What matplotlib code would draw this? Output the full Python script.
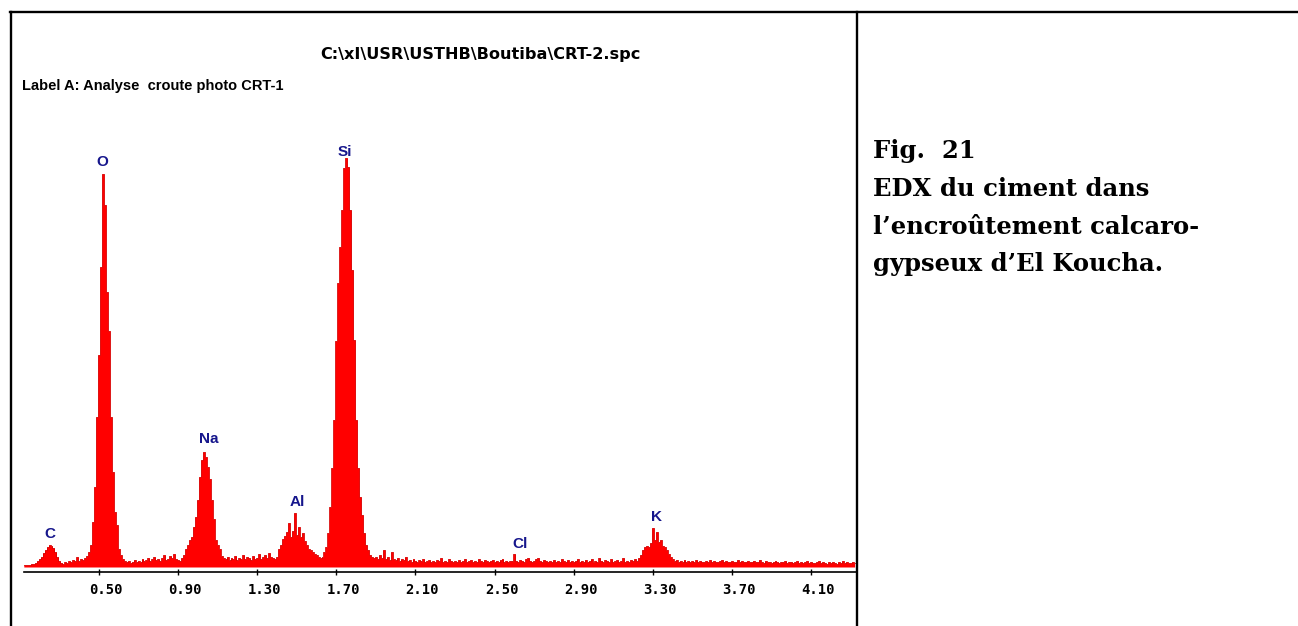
import numpy as np
import matplotlib.pyplot as plt
from matplotlib import font_manager
from matplotlib.lines import Line2D
from matplotlib.transforms import ScaledTranslation

# EDX spectrum, 10 eV channels starting at 0.12 keV (counts, arbitrary units)
e_start = 0.12
e_step = 0.01
counts = [
    2, 2, 2, 2, 3, 3, 4, 6,                               # 0.12-0.19
    8, 10, 14, 17, 20, 22, 21, 19, 15, 10,                # 0.2x  C
    6, 4, 3, 5, 4, 6, 5, 7, 6, 10,                        # 0.3x
    6, 8, 7, 9, 11, 15, 22, 45, 80, 150,                  # 0.4x
    212, 300, 393, 362, 275, 236, 150, 95, 55, 42,        # 0.5x  O
    18, 12, 8, 6, 5, 6, 4, 5, 7, 5,                       # 0.6x
    6, 5, 8, 6, 7, 9, 6, 8, 10, 7,                        # 0.7x
    8, 6, 9, 12, 7, 8, 11, 9, 13, 8,                      # 0.8x
    7, 6, 9, 12, 18, 22, 27, 30, 40, 50,                  # 0.9x
    67, 90, 107, 115, 110, 100, 88, 67, 48, 27,           # 1.0x  Na
    22, 18, 11, 9, 8, 10, 7, 9, 8, 11,                    # 1.1x
    7, 9, 8, 12, 8, 10, 9, 7, 11, 8,                      # 1.2x
    9, 13, 8, 10, 12, 9, 14, 10, 9, 8,                    # 1.3x
    10, 18, 22, 28, 31, 35, 44, 30, 36, 54,               # 1.4x  Al
    32, 40, 30, 34, 26, 22, 18, 17, 15, 13,               # 1.5x
    12, 10, 9, 10, 15, 20, 34, 60, 99, 147,               # 1.6x
    226, 284, 320, 357, 399, 409, 400, 357, 297, 227,     # 1.7x  Si
    147, 99, 70, 52, 34, 22, 17, 12, 10, 9,               # 1.8x
    10, 8, 12, 9, 17, 8, 10, 7, 15, 8,                    # 1.9x
    7, 9, 6, 8, 7, 10, 6, 7, 5, 8,                        # 2.0x
    6, 5, 7, 6, 8, 5, 6, 7, 5, 6,                         # 2.1x
    5, 7, 6, 9, 5, 6, 5, 8, 6, 5,                         # 2.2x
    6, 5, 7, 5, 6, 8, 5, 6, 7, 5,                         # 2.3x
    6, 5, 8, 6, 5, 7, 6, 5, 6, 7,                         # 2.4x
    5, 6, 5, 7, 8, 5, 6, 5, 6, 6,                         # 2.5x
    13, 6, 5, 7, 6, 5, 8, 9, 6, 5,                        # 2.6x  Cl
    6, 8, 9, 6, 5, 7, 6, 5, 6, 5,                         # 2.7x
    7, 5, 6, 5, 8, 6, 5, 7, 5, 6,                         # 2.8x
    5, 6, 8, 5, 6, 5, 7, 5, 6, 8,                         # 2.9x
    5, 6, 5, 9, 6, 5, 7, 6, 5, 8,                         # 3.0x
    5, 6, 7, 5, 6, 9, 5, 6, 5, 7,                         # 3.1x
    6, 8, 6, 9, 12, 17, 20, 21, 20, 24,                   # 3.2x
    39, 27, 35, 25, 27, 21, 20, 17, 13, 10,               # 3.3x  K
    8, 6, 7, 5, 6, 5, 7, 5, 6, 5,                         # 3.4x
    6, 5, 7, 5, 6, 5, 5, 6, 5, 7,                         # 3.5x
    5, 6, 5, 5, 6, 7, 5, 6, 5, 5,                         # 3.6x
    6, 5, 5, 7, 5, 6, 5, 5, 6, 5,                         # 3.7x
    5, 6, 5, 5, 7, 5, 4, 6, 5, 5,                         # 3.8x
    4, 5, 6, 5, 4, 5, 5, 6, 4, 5,                         # 3.9x
    5, 4, 5, 6, 4, 5, 4, 5, 6, 4,                         # 4.0x
    5, 4, 4, 5, 6, 4, 5, 4, 3, 5,                         # 4.1x
    4, 5, 4, 3, 5, 4, 6, 4, 5, 4,                         # 4.2x
    4, 5, 4,                                              # 4.30-4.32
]
energy = e_start + e_step * np.arange(len(counts))

# peak labels
elements = ["C", "O", "Na", "Al", "Si", "Cl", "K"]
element_kev = [0.252, 0.518, 1.056, 1.505, 1.744, 2.628, 3.319]
label_counts = [33, 405, 128, 65, 415, 23, 50]

tick_kev = [0.50, 0.90, 1.30, 1.70, 2.10, 2.50, 2.90, 3.30, 3.70, 4.10]

header_path = "C:\\xI\\USR\\USTHB\\Boutiba\\CRT-2.spc"
header_label = "Label A: Analyse  croute photo CRT-1"
caption = ["Fig.  21", "EDX du ciment dans",
           "l\u2019encro\u00fbtement calcaro-", "gypseux d\u2019El Koucha."]

names = {f.name for f in font_manager.fontManager.ttflist}
narrow = "Liberation Sans Narrow" if "Liberation Sans Narrow" in names else "Liberation Sans"

W, H = 1298, 626
fig = plt.figure(figsize=(W / 100, H / 100), dpi=100)
fig.patch.set_facecolor("white")

# axes placed in pixels: axis line at y=572, x from 24 to 856
ax = fig.add_axes([24 / W, 1 - 572 / H, (856 - 24) / W, (572 - 130) / H])
ax.fill_between(energy, counts, step="mid", color="#ff0000", lw=0)
ax.step(energy, counts, where="mid", color="#d80000", lw=0.6)
ax.set_xlim(0.121, 4.327)
ax.set_ylim(-5, 437)

for s in ["left", "right", "top"]:
    ax.spines[s].set_visible(False)
ax.spines["bottom"].set_linewidth(1.2)
ax.set_yticks([])
ax.set_xticks(tick_kev)
ax.set_xticklabels([f"{t:.2f}" for t in tick_kev],
                   family="DejaVu Sans Mono", fontweight="bold", fontsize=10)
ax.tick_params(axis="x", direction="inout", length=5, width=1, pad=5.5)
for lab in ax.get_xticklabels():
    lab.set_transform(lab.get_transform() + ScaledTranslation(7 / 100, 0, fig.dpi_scale_trans))

for name, e, h in zip(elements, element_kev, label_counts):
    ax.text(e, h, name, ha="center", va="center", color="#16168c",
            family="Liberation Sans", fontweight="bold", fontsize=11)

# header texts
fig.text(320 / W, 1 - 55 / H, header_path, ha="left", va="center",
         family="DejaVu Sans", fontweight="bold", fontsize=11.6)
fig.text(22 / W, 1 - 86 / H, header_label, ha="left", va="center",
         family=narrow, fontweight="bold", fontsize=10.5)

# caption on the right
for line, yb in zip(caption, [158, 196.5, 233.5, 271]):
    fig.text(873 / W, 1 - yb / H, line, ha="left", va="baseline",
             family="DejaVu Serif", fontweight="bold", fontsize=17.5)

# frame lines
lw = 1.7
fig.add_artist(Line2D([11 / W, 11 / W], [0, 1 - 12 / H], color="black", lw=lw))
fig.add_artist(Line2D([10 / W, 1], [1 - 12 / H, 1 - 12 / H], color="black", lw=lw))
fig.add_artist(Line2D([857 / W, 857 / W], [0, 1 - 12 / H], color="black", lw=lw))

fig.savefig("out.png", dpi=100)
